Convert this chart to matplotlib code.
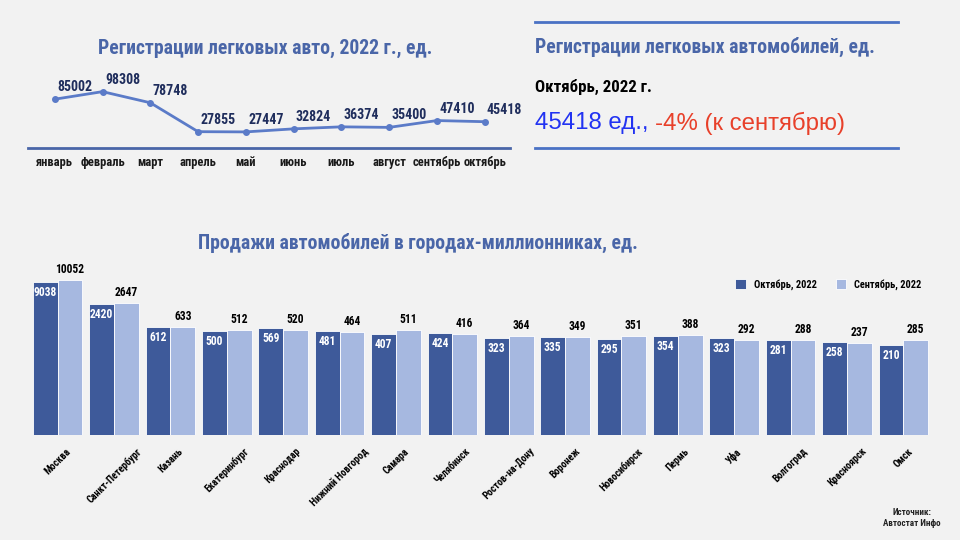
import numpy as np
import matplotlib
matplotlib.use('Agg')
from matplotlib import pyplot as plt

plt.rcParams['font.family'] = ['DejaVu Sans Condensed', 'Roboto Condensed', 'Liberation Sans Narrow',
                               'Roboto', 'DejaVu Sans']
plt.rcParams['font.weight'] = 'bold'

# line chart data
months = ['январь', 'февраль', 'март', 'апрель', 'май', 'июнь', 'июль', 'август', 'сентябрь', 'октябрь']
registrations = [85002, 98308, 78748, 27855, 27447, 32824, 36374, 35400, 47410, 45418]

# bar chart data
cities = ['Москва', 'Санкт-Петербург', 'Казань', 'Екатеринбург', 'Краснодар', 'Нижний Новгород',
          'Самара', 'Челябинск', 'Ростов-на-Дону', 'Воронеж', 'Новосибирск', 'Пермь', 'Уфа',
          'Волгоград', 'Красноярск', 'Омск']
october = [9038, 2420, 612, 500, 569, 481, 407, 424, 323, 335, 295, 354, 323, 281, 258, 210]
september = [10052, 2647, 633, 512, 520, 464, 511, 416, 364, 349, 351, 388, 292, 288, 237, 285]

BG = '#f2f2f2'
TITLE_C = '#4a66a8'
DARK = '#3e5a9a'
LIGHT = '#a6b8e0'
NAVY = '#1f2d5c'

W, H = 960, 540
fig = plt.figure(figsize=(9.6, 5.4), dpi=100, facecolor=BG)


def box(x0, y0, x1, y1):
    # pixel box (top-left origin) -> figure coords
    return [x0 / W, 1 - y1 / H, (x1 - x0) / W, (y1 - y0) / H]


####################################################
# 1. Line chart of registrations
ax1 = fig.add_axes(box(28, 85, 510, 147.5))
ax1.set_facecolor(BG)
x = np.arange(len(months))
ax1.plot(x, registrations, color='#5b7bc8', lw=2, marker='o', ms=4)
for xi, v in zip(x, registrations):
    ax1.annotate(str(v), (xi, v), xytext=(20, 5), textcoords='offset pixels',
                 ha='center', va='bottom', fontsize=10, color=NAVY)
ax1.set_xlim(-0.56, 9.53)
ax1.set_ylim(0, 110000)
for s in ['top', 'right', 'left']:
    ax1.spines[s].set_visible(False)
ax1.spines['bottom'].set_color('#4a66a8')
ax1.spines['bottom'].set_linewidth(2)
ax1.set_yticks([])
ax1.set_xticks(x)
ax1.set_xticklabels(months, fontsize=9, color='#1a1a1a')
ax1.tick_params(axis='x', length=0, pad=6)
fig.text(265 / W, 1 - 48 / H, 'Регистрации легковых авто, 2022 г., ед.', ha='center', va='center',
         fontsize=14.2, color=TITLE_C)

####################################################
# 2. Right text panel
fig.add_artist(plt.Line2D([535 / W, 898 / W], [1 - 22 / H, 1 - 22 / H], color='#4a72c4', lw=2))
fig.add_artist(plt.Line2D([535 / W, 898 / W], [1 - 148 / H, 1 - 148 / H], color='#4a72c4', lw=2))
fig.text(535 / W, 1 - 47 / H, 'Регистрации легковых автомобилей, ед.', ha='left', va='center',
         fontsize=14.2, color=TITLE_C)
fig.text(535 / W, 1 - 87 / H, 'Октябрь, 2022 г.', ha='left', va='center', fontsize=12.2, color='black')
t = fig.text(535 / W, 1 - 123 / H, '45418 ед., ', ha='left', va='center', fontsize=17.3,
             color='#2233f2', family=['Liberation Sans', 'DejaVu Sans'], weight='normal')
fig.canvas.draw()
bb = t.get_window_extent()
fig.text(bb.x1 / W, 1 - 123 / H, '-4% (к сентябрю)', ha='left', va='center', fontsize=17.3,
         color='#e8402a', family=['Liberation Sans', 'DejaVu Sans'], weight='normal')

####################################################
# 3. Bar chart of cities (log scale)
ax2 = fig.add_axes(box(30, 260, 931, 435))
ax2.set_facecolor(BG)
ax2.set_yscale('log')
ax2.set_ylim(1, 10 ** (175 / 38.7))
ax2.set_xlim(-0.49, 15.49)
xc = np.arange(len(cities))
bw = 0.44
ax2.bar(xc - bw / 2, october, bw, color=DARK, edgecolor='white', lw=0.6, label='Октябрь, 2022')
ax2.bar(xc + bw / 2, september, bw, color=LIGHT, edgecolor='white', lw=0.6, label='Сентябрь, 2022')
for xi, v in zip(xc - bw / 2, october):
    ax2.annotate(str(v), (xi, v), xytext=(0, -4), textcoords='offset pixels',
                 ha='center', va='top', fontsize=8.3, color='white')
for xi, v in zip(xc + bw / 2, september):
    ax2.annotate(str(v), (xi, v), xytext=(0, 4), textcoords='offset pixels',
                 ha='center', va='bottom', fontsize=8.3, color='black')
for s in ax2.spines.values():
    s.set_visible(False)
ax2.set_yticks([])
ax2.minorticks_off()
ax2.set_xticks(xc)
ax2.set_xticklabels(cities, rotation=45, fontsize=7.2, color='black')
ax2.tick_params(axis='x', length=0, pad=8)
ax2.legend(loc='upper right', bbox_to_anchor=(1.0, 0.945), ncol=2, frameon=False, fontsize=7.5,
           handlelength=1.0, handleheight=1.0, columnspacing=1.8, handletextpad=0.8)
fig.text(418 / W, 1 - 243 / H, 'Продажи автомобилей в городах-миллионниках, ед.', ha='center', va='center',
         fontsize=14.2, color=TITLE_C)

fig.text(912 / W, 1 - 518 / H, 'Источник:\nАвтостат Инфо', ha='center', va='center', fontsize=6.5,
         color='#222222', linespacing=1.4)

fig.savefig('out.png', dpi=100, facecolor=BG)
